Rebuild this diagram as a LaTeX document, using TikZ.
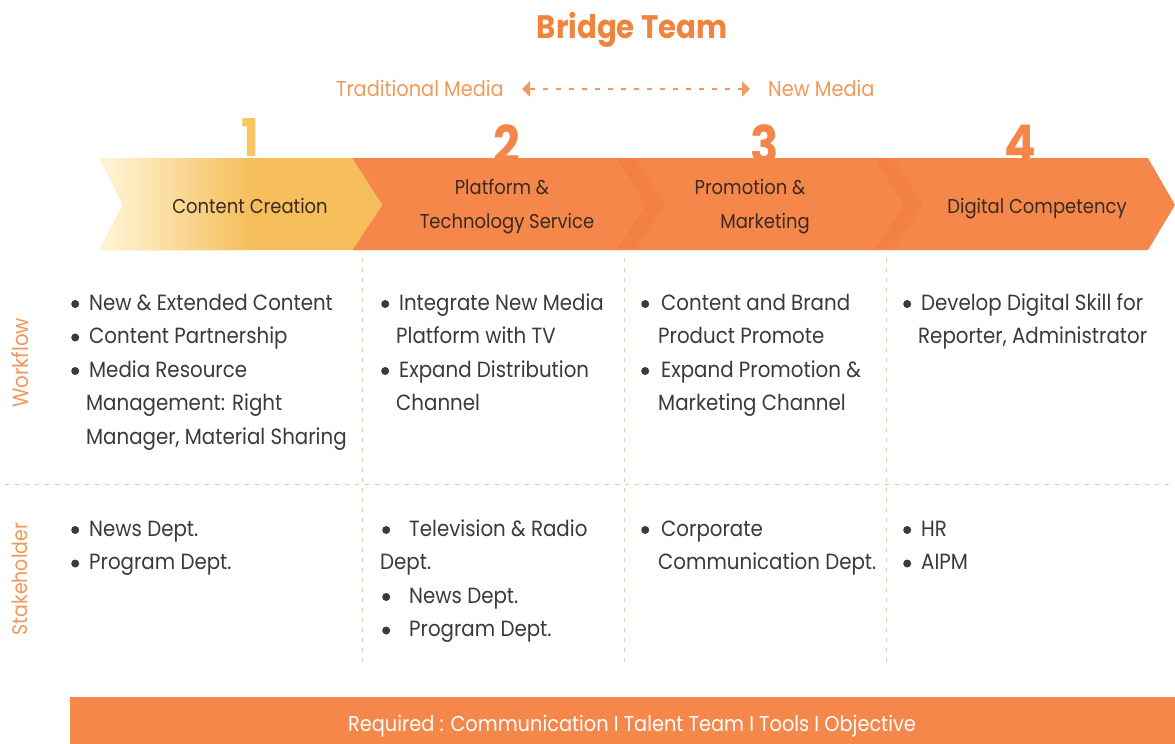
\documentclass[tikz,border=0pt]{standalone}
\usepackage{fontspec}
\setmainfont{Poppins}[FakeStretch=0.9]
\usetikzlibrary{arrows.meta}
\definecolor{ttl}{HTML}{F0843C}
\definecolor{hdr}{HTML}{F29A5C}
\definecolor{org}{HTML}{F5874A}
\definecolor{orgd}{HTML}{EE7434}
\definecolor{yel}{HTML}{F6BF5C}
\definecolor{yell}{HTML}{FFF7DC}
\definecolor{num}{HTML}{F4864A}
\definecolor{numy}{HTML}{F8C660}
\definecolor{grd}{HTML}{F2C6A4}
\definecolor{txt}{HTML}{3A3A3A}
\definecolor{btxt}{HTML}{3B2A22}
\definecolor{side}{HTML}{F0985A}
\newcommand{\bu}[1][18pt]{\makebox[#1][l]{\tikz[baseline=0pt]\fill[txt] (4pt,6pt) circle[radius=4pt];}}
\newcommand{\ind}[1][15pt]{\hspace*{#1}}
\begin{document}
\begin{tikzpicture}[x=1pt,y=-1pt,
  body/.style={font=\fontsize{22}{33.5}\selectfont, text=txt, align=left, inner sep=0pt},
  bandtxt/.style={font=\fontsize{20}{34}\selectfont, text=btxt, align=center, inner sep=0pt},
  numtxt/.style={font=\bfseries\fontsize{52}{52}\selectfont, inner sep=0pt},
  sidetxt/.style={text=side, rotate=90, inner sep=0pt},
  hdrtxt/.style={font=\fontsize{21.5}{21.5}\selectfont, text=hdr, inner sep=0pt},
  grid/.style={grd, line width=1pt, dash pattern=on 4pt off 6pt}]
\useasboundingbox (0,0) rectangle (1175,744);
\fill[white] (0,0) rectangle (1175,744);

% title and header
\node[font=\bfseries\fontsize{32.5}{32.5}\selectfont, text=ttl, inner sep=0pt, anchor=base] (title) at (632,38) {Bridge Team};
\node[hdrtxt, anchor=base east] (trad) at (504,96) {Traditional Media};
\node[hdrtxt, anchor=base west] (newm) at (768,96) {New Media};
\draw[hdr, line width=2pt, dash pattern=on 5pt off 8pt,
  {Triangle[width=15pt,length=8pt]}-{Triangle[width=15pt,length=8pt]}]
  ([xshift=18pt,yshift=7pt]trad.base east) -- ([xshift=-18pt,yshift=7pt]newm.base west);

% numbers (behind band)
\node[numtxt, text=numy, anchor=base] (n1) at (250,156) {1};
\node[numtxt, text=num, anchor=base] (n2) at (507,163) {2};
\node[numtxt, text=num, anchor=base] (n3) at (765,163) {3};
\node[numtxt, text=num, anchor=base] (n4) at (1020,162) {4};

% band segments
\fill[org] (873,158) -- (1148,158) -- (1175,205) -- (1148,250) -- (873,250) -- (903,205) -- cycle;
\fill[org] (615,158) -- (873,158) -- (903,205) -- (873,250) -- (615,250) -- (645,205) -- cycle;
\fill[org] (352,158) -- (615,158) -- (645,205) -- (615,250) -- (352,250) -- (382,205) -- cycle;
\fill[orgd, opacity=0.3] (615,158) -- (635,158) -- (665,205) -- (635,250) -- (615,250) -- (645,205) -- cycle;
\fill[orgd, opacity=0.3] (873,158) -- (893,158) -- (923,205) -- (893,250) -- (873,250) -- (903,205) -- cycle;
\begin{scope}
  \clip (100,158) -- (352,158) -- (382,205) -- (352,250) -- (100,250) -- (123,205) -- cycle;
  \fill[yel] (95,150) rectangle (390,260);
  \shade[left color=yell, right color=yel] (95,150) rectangle (250,260);
\end{scope}

% band labels
\node[bandtxt, anchor=base] (s1) at (250,213) {Content Creation};
\node[bandtxt, anchor=base] (s2a) at (502,194) {Platform \&};
\node[bandtxt, anchor=base] (s2b) at (507,228) {Technology Service};
\node[bandtxt, anchor=base] (s3a) at (750,194) {Promotion \&};
\node[bandtxt, anchor=base] (s3b) at (765,228) {Marketing};
\node[bandtxt, anchor=base] (s4) at (1037,213) {Digital Competency};

% grid
\draw[grid] (362,258) -- (362,668);
\draw[grid] (624,258) -- (624,668);
\draw[grid] (886,258) -- (886,668);
\draw[grid] (5,484) -- (1175,484);

% side labels
\node[sidetxt, font=\fontsize{22}{22}\selectfont] (wf) at (20,363) {Workflow};
\node[sidetxt, font=\fontsize{21}{21}\selectfont] (sh) at (20,579) {Stakeholder};

% workflow (anchor = baseline of last line)
\node[body, anchor=base west] (w1) at (71,444) {\bu New \& Extended Content\\ \bu Content Partnership\\ \bu Media Resource\\ \ind Management: Right\\ \ind Manager, Material Sharing};
\node[body, anchor=base west] (w2) at (381,410.5) {\bu Integrate New Media\\ \ind Platform with TV\\ \bu Expand Distribution\\ \ind Channel};
\node[body, anchor=base west] (w3) at (641,410.5) {\bu[20pt]Content and Brand\\ \ind[17pt]Product Promote\\ \bu[20pt]Expand Promotion \&\\ \ind[17pt]Marketing Channel};
\node[body, anchor=base west] (w4) at (903,343.5) {\bu Develop Digital Skill for\\ \ind Reporter, Administrator};

% stakeholder
\node[body, anchor=base west] (k1) at (71,569.5) {\bu News Dept.\\ \bu Program Dept.};
\node[body, anchor=base west] (k2) at (380,636.5) {\ind[2pt]\bu[27pt]Television \& Radio\\ Dept.\\ \ind[2pt]\bu[27pt]News Dept.\\ \ind[2pt]\bu[27pt]Program Dept.};
\node[body, anchor=base west] (k3) at (641,569.5) {\bu[20pt]Corporate\\ \ind[17pt]Communication Dept.};
\node[body, anchor=base west] (k4) at (903,569.5) {\bu HR\\ \bu AIPM};

% bottom bar
\fill[org] (70,697) rectangle (1175,744);
\node[font=\fontsize{21.5}{21.5}\selectfont, text=white, inner sep=0pt, anchor=base] (req) at (632,731) {Required : Communication I Talent Team I Tools I Objective};
\end{tikzpicture}
\end{document}
